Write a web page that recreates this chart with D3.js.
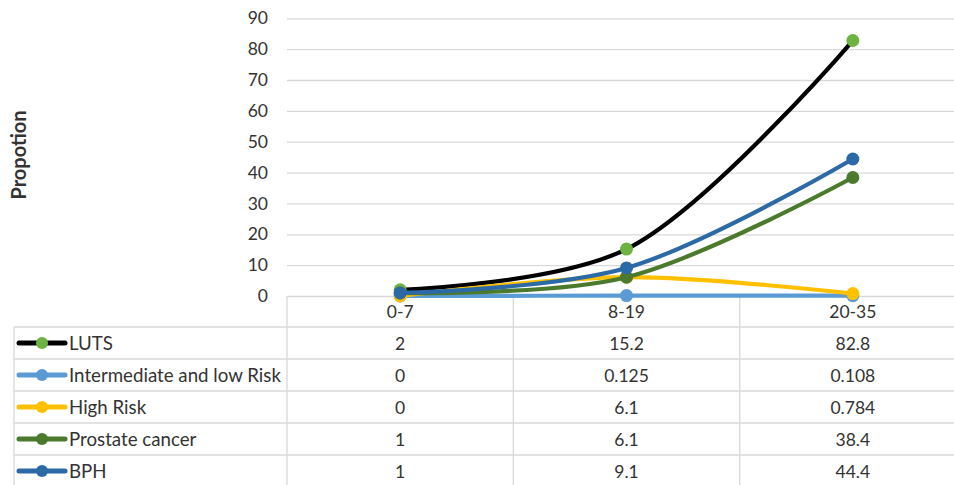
<!DOCTYPE html>
<html>
<head>
<meta charset="utf-8">
<script src="https://cdn.jsdelivr.net/npm/d3@7"></script>
<style>
  html, body { margin: 0; padding: 0; background: #fff; }
  svg { display: block; }
  text { font-family: Lato, "Open Sans", sans-serif; fill: #333; }
</style>
</head>
<body>
<svg id="chart" width="954" height="485"></svg>
<script>
// Age-band categories and the proportion per series
const categories = ["0-7", "8-19", "20-35"];
const seriesNames = ["LUTS", "Intermediate and low Risk", "High Risk", "Prostate cancer", "BPH"];
const lutsValues = [2, 15.2, 82.8];
const intermediateValues = [0, 0.125, 0.108];
const highRiskValues = [0, 6.1, 0.784];
const prostateValues = [1, 6.1, 38.4];
const bphValues = [1, 9.1, 44.4];
// Table cell text exactly as printed
const tableLabels = [
  ["2", "15.2", "82.8"],
  ["0", "0.125", "0.108"],
  ["0", "6.1", "0.784"],
  ["1", "6.1", "38.4"],
  ["1", "9.1", "44.4"]
];
const yTicks = [0, 10, 20, 30, 40, 50, 60, 70, 80, 90];
const lineColors = ["#000000", "#5b9bd5", "#ffc000", "#4b7a2c", "#2b6aa6"];
const markerColors = ["#6db33f", "#5b9bd5", "#ffc000", "#4b7a2c", "#2b6aa6"];

const series = seriesNames.map((name, i) => ({
  name,
  values: [lutsValues, intermediateValues, highRiskValues, prostateValues, bphValues][i],
  labels: tableLabels[i],
  line: lineColors[i],
  marker: markerColors[i]
}));

const svg = d3.select("#chart");
const plotLeft = 287, plotRight = 966, plotTop = 18.3, plotBottom = 296;
const tableLeft = 14, rowH = 32, headerBottom = 327;
const gridColor = "#d9d9d9";

const x = d3.scaleBand().domain(categories).range([plotLeft, plotRight]).padding(0);
const y = d3.scaleLinear().domain([0, 90]).range([plotBottom, plotTop]);
const cx = c => x(c) + x.bandwidth() / 2;

// Horizontal gridlines and value labels
const yAxis = d3.axisLeft(y).tickValues(yTicks).tickSize(-(plotRight - plotLeft)).tickPadding(19);
const gy = svg.append("g").attr("transform", `translate(${plotLeft},0)`).call(yAxis);
gy.select(".domain").remove();
gy.selectAll(".tick line").attr("stroke", gridColor).attr("stroke-width", 1.3);
gy.selectAll(".tick text").attr("font-size", 17.5).attr("fill", "#333")
  .style("font-family", "Lato, 'Open Sans', sans-serif");

// Axis title
svg.append("text")
  .attr("transform", `translate(25.5,155) rotate(-90)`)
  .attr("text-anchor", "middle")
  .attr("font-size", 20)
  .attr("font-weight", "bold")
  .text("Propotion");

// Data table grid
const tableBottom = headerBottom + rowH * series.length;
const grid = svg.append("g").attr("stroke", gridColor).attr("stroke-width", 1.3);
// category boundaries
x.domain().forEach(c => {
  grid.append("line").attr("x1", x(c)).attr("x2", x(c)).attr("y1", plotBottom).attr("y2", tableBottom);
});
grid.append("line").attr("x1", tableLeft).attr("x2", tableLeft).attr("y1", headerBottom).attr("y2", tableBottom);
d3.range(series.length + 1).forEach(r => {
  const yy = headerBottom + r * rowH;
  grid.append("line").attr("x1", tableLeft).attr("x2", plotRight).attr("y1", yy).attr("y2", yy);
});

// Category labels in header row
svg.append("g").selectAll("text").data(categories).join("text")
  .attr("x", d => cx(d)).attr("y", (plotBottom + headerBottom) / 2 + 6.5)
  .attr("text-anchor", "middle").attr("font-size", 17.5).text(d => d);

// Table rows: legend key, name, values
series.forEach((s, i) => {
  const mid = headerBottom + i * rowH + rowH / 2;
  const row = svg.append("g");
  row.append("line").attr("x1", 19).attr("x2", 65).attr("y1", mid).attr("y2", mid)
    .attr("stroke", s.line).attr("stroke-width", 5).attr("stroke-linecap", "round");
  row.append("circle").attr("cx", 42).attr("cy", mid).attr("r", 6).attr("fill", s.marker);
  row.append("text").attr("x", 69).attr("y", mid + 6.5).attr("font-size", 18.7).text(s.name);
  row.selectAll("text.v").data(categories).join("text").attr("class", "v")
    .attr("x", d => cx(d)).attr("y", mid + 6.5).attr("text-anchor", "middle")
    .attr("font-size", 17.5).text((d, j) => s.labels[j]);
});

// Smoothed lines with markers
const line = d3.line().x((d, j) => cx(categories[j])).y(d => y(d)).curve(d3.curveCatmullRom.alpha(0.5));
const plot = svg.append("g");
series.forEach(s => {
  plot.append("path").attr("d", line(s.values)).attr("fill", "none")
    .attr("stroke", s.line).attr("stroke-width", 4.2).attr("stroke-linecap", "round");
  plot.selectAll(null).data(s.values).join("circle")
    .attr("cx", (d, j) => cx(categories[j])).attr("cy", d => y(d)).attr("r", 6.5)
    .attr("fill", s.marker);
});
</script>
</body>
</html>
